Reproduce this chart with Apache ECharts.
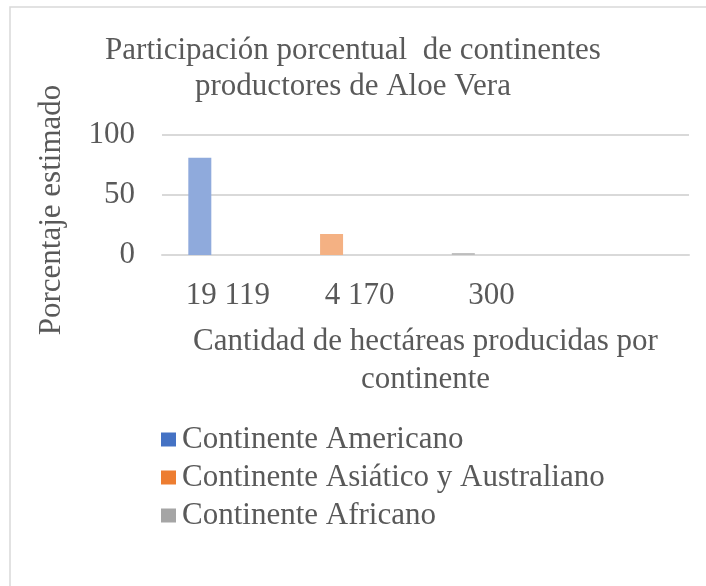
<!DOCTYPE html>
<html>
<head>
<meta charset="utf-8">
<script src="https://cdn.jsdelivr.net/npm/echarts@6/dist/echarts.min.js"></script>
<style>
  html, body { margin: 0; padding: 0; background: #ffffff; }
  #chart { width: 706px; height: 586px; }
</style>
</head>
<body>
<div id="chart"></div>
<script>
  // datos
  var categories = ['19 119', '4 170', '300', ''];
  var seriesNames = ['Continente Americano', 'Continente Asiático y Australiano', 'Continente Africano'];
  var americano = [81, '-', '-', '-'];
  var asiatico = ['-', 17.5, '-', '-'];
  var africano = ['-', '-', 1.6, '-'];
  var yTicks = [0, 50, 100];

  var textColor = '#595959';
  var gridColor = '#d9d9d9';
  var fontFam = '"Liberation Serif", "Times New Roman", serif';
  var legendColors = ['#4472c4', '#ed7d31', '#a5a5a5'];
  var barColors = ['#8faadc', '#f4b183', '#bdbdbd'];

  var myChart = echarts.init(document.getElementById('chart'));

  function barSeries(name, data, color) {
    return {
      name: name,
      type: 'bar',
      stack: 'cont',
      data: data,
      barWidth: 23,
      barGap: '22%',
      itemStyle: { color: color }
    };
  }

  // series vacias, solo reservan los huecos 2 y 3 de cada categoria (como en Excel)
  function emptySeries(stack) {
    return { type: 'bar', stack: stack, data: [], barWidth: 23, barGap: '22%', silent: true };
  }

  var option = {
    backgroundColor: '#ffffff',
    animation: false,
    textStyle: { fontFamily: fontFam },
    graphic: [{
      type: 'rect',
      shape: { x: 10, y: 7, width: 760, height: 640 },
      style: { fill: 'none', stroke: gridColor, lineWidth: 1.5 },
      silent: true
    }],
    title: {
      text: 'Participación porcentual  de continentes\nproductores de Aloe Vera',
      left: 'center',
      top: 28,
      textStyle: {
        color: textColor,
        fontFamily: fontFam,
        fontSize: 31,
        fontWeight: 'normal',
        lineHeight: 36
      }
    },
    legend: {
      orient: 'vertical',
      left: 156,
      top: 419,
      itemWidth: 15,
      itemHeight: 14,
      itemGap: 7,
      icon: 'rect',
      textStyle: { color: textColor, fontFamily: fontFam, fontSize: 31, padding: [0, 0, 0, 1] },
      data: [
        { name: seriesNames[0], itemStyle: { color: legendColors[0] } },
        { name: seriesNames[1], itemStyle: { color: legendColors[1] } },
        { name: seriesNames[2], itemStyle: { color: legendColors[2] } }
      ]
    },
    grid: { left: 162, right: 17, top: 135, bottom: 331 },
    xAxis: {
      type: 'category',
      data: categories,
      name: 'Cantidad de hectáreas producidas por\ncontinente',
      nameLocation: 'middle',
      nameGap: 68,
      nameTextStyle: { color: textColor, fontFamily: fontFam, fontSize: 31, lineHeight: 38 },
      axisLine: { show: true, lineStyle: { color: gridColor, width: 2 } },
      axisTick: { show: false },
      axisLabel: { color: textColor, fontFamily: fontFam, fontSize: 31, margin: 25 }
    },
    yAxis: {
      type: 'value',
      min: yTicks[0],
      max: yTicks[yTicks.length - 1],
      interval: yTicks[1] - yTicks[0],
      name: 'Porcentaje estimado',
      nameLocation: 'middle',
      nameRotate: 90,
      nameGap: 95,
      nameTextStyle: { color: textColor, fontFamily: fontFam, fontSize: 31, padding: [0, 30, 0, 0] },
      axisLine: { show: false },
      axisTick: { show: false },
      axisLabel: { color: textColor, fontFamily: fontFam, fontSize: 31, margin: 27 },
      splitLine: { lineStyle: { color: gridColor, width: 2 } }
    },
    series: [
      barSeries(seriesNames[0], americano, barColors[0]),
      barSeries(seriesNames[1], asiatico, barColors[1]),
      barSeries(seriesNames[2], africano, barColors[2]),
      emptySeries('hueco2'),
      emptySeries('hueco3')
    ]
  };

  myChart.setOption(option);
</script>
</body>
</html>
